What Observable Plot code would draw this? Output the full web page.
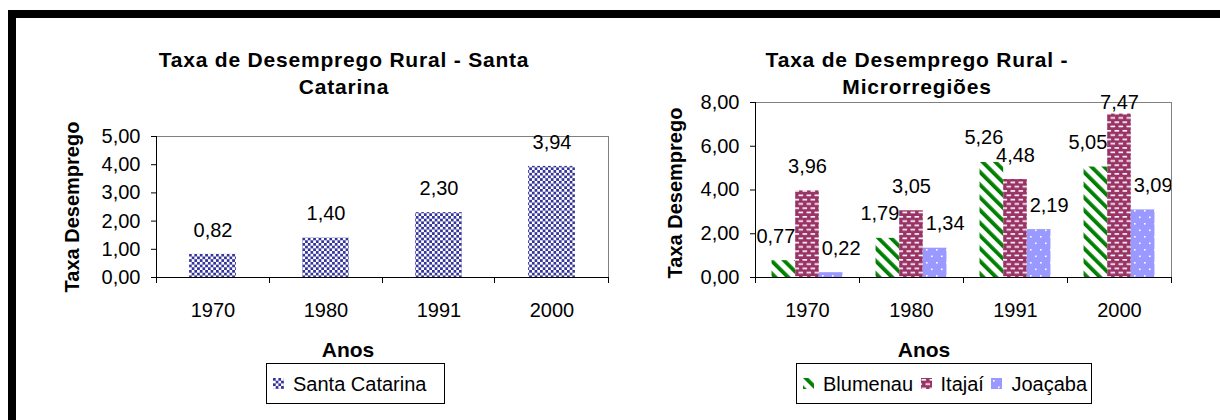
<!DOCTYPE html>
<html><head><meta charset="utf-8">
<script src="https://cdn.jsdelivr.net/npm/d3@7"></script>
<script src="https://cdn.jsdelivr.net/npm/@observablehq/plot@0.6"></script>
<style>
html,body{margin:0;padding:0;background:#fff;}
#root{position:relative;width:1220px;height:420px;overflow:hidden;font-family:'Liberation Sans',Arial,sans-serif;color:#000;background:#fff;}
.bigframe{position:absolute;left:8px;top:10px;width:1300px;height:500px;border-left:8px solid #000;border-top:8px solid #000;}
.title{position:absolute;transform:translateX(-50%);text-align:center;font-weight:bold;font-size:21px;letter-spacing:0.8px;line-height:27px;white-space:nowrap;}
.xtitle{position:absolute;transform:translateX(-50%);font-weight:bold;font-size:21px;line-height:21px;white-space:nowrap;}
.ytitle{position:absolute;transform:translate(-50%,-50%) rotate(-90deg);font-weight:bold;font-size:20px;line-height:20px;white-space:nowrap;}
.legend{position:absolute;top:363px;height:41px;border:1px solid #000;box-sizing:border-box;display:flex;align-items:center;font-size:20px;line-height:20px;padding-left:6px;white-space:nowrap;}
.legend .item{display:flex;align-items:center;margin-right:7.5px;}
.legend svg{width:11px;height:11px;margin-right:9px;flex:none;}
</style></head>
<body>
<div id="root">
<svg width="0" height="0" style="position:absolute">
<defs>
<pattern id="pChk" patternUnits="userSpaceOnUse" width="5.4" height="5.4">
<rect width="5.4" height="5.4" fill="#ffffff"/>
<rect width="2.7" height="2.7" fill="#333399"/>
<rect x="2.7" y="2.7" width="2.7" height="2.7" fill="#333399"/>
</pattern>
<pattern id="pBlu" patternUnits="userSpaceOnUse" width="9" height="9" patternTransform="rotate(-45)">
<rect width="9" height="9" fill="#ffffff"/>
<rect width="3.8" height="9" fill="#008000"/>
</pattern>
<pattern id="pIta" patternUnits="userSpaceOnUse" width="8" height="8.6">
<rect width="8" height="8.6" fill="#993366"/>
<rect x="0.5" y="1" width="4.6" height="1.6" fill="#ffffff"/>
<rect x="4.5" y="5.3" width="3.5" height="1.6" fill="#ffffff"/>
<rect x="0" y="5.3" width="1.1" height="1.6" fill="#ffffff"/>
</pattern>
<pattern id="pJoa" patternUnits="userSpaceOnUse" width="10" height="13">
<rect width="10" height="13" fill="#9999ff"/>
<rect x="2" y="2" width="1.6" height="1.6" fill="#ffffff"/>
<rect x="7" y="8.5" width="1.6" height="1.6" fill="#ffffff"/>
</pattern>
</defs>
</svg>
<div class="bigframe"></div>
</div>
<script>
// ---- data ----
const years = ["1970", "1980", "1991", "2000"];
const santaCatarina = [0.82, 1.40, 2.30, 3.94];
const series = ["Blumenau", "Itajaí", "Joaçaba"];
const blumenau = [0.77, 1.79, 5.26, 5.05];
const itajai = [3.96, 3.05, 4.48, 7.47];
const joacaba = [0.22, 1.34, 2.19, 3.09];
const yTicksLeft = [0, 1, 2, 3, 4, 5];
const yTicksRight = [0, 2, 4, 6, 8];
const titleLeft = ["Taxa de Desemprego Rural - Santa", "Catarina"];
const titleRight = ["Taxa de Desemprego Rural -", "Microrregiões"];
const xTitle = "Anos";
const yTitle = "Taxa Desemprego";

const seriesValues = [blumenau, itajai, joacaba];
const patterns = {"Santa Catarina": "pChk", "Blumenau": "pBlu", "Itajaí": "pIta", "Joaçaba": "pJoa"};
const fmt = v => v.toFixed(2).replace(".", ",");
const font = "'Liberation Sans', Arial, sans-serif";
const root = document.getElementById("root");

const leftData = years.map((y, i) => ({year: y, value: santaCatarina[i]}));
const rightData = years.flatMap((y, i) => series.map((s, k) => ({year: y, series: s, value: seriesValues[k][i]})));

function baseStyle(left) {
  return {position: "absolute", left: left + "px", top: "0px", fontFamily: font, fontSize: "20px",
          color: "#000", background: "transparent", overflow: "visible"};
}

// ---- left chart ----
const left = Plot.plot({
  width: 610, height: 420,
  marginLeft: 156, marginRight: 2, marginTop: 136, marginBottom: 143,
  style: baseStyle(0),
  x: {type: "band", domain: years, paddingInner: 0.586, paddingOuter: 0.293, round: false},
  y: {domain: [0, 5]},
  marks: [
    Plot.barY(leftData, {x: "year", y: "value", fill: "url(#pChk)"}),
    Plot.ruleY([5], {stroke: "#808080"}),
    Plot.ruleY([0], {stroke: "#000"}),
    Plot.axisY({ticks: yTicksLeft, tickFormat: fmt, tickSize: 5, tickPadding: 11, label: null}),
    Plot.axisX({tickSize: 0, tickPadding: 25, label: null}),
    Plot.text(leftData, {x: "year", y: "value", text: d => fmt(d.value), dy: -24})
  ]
});
root.appendChild(left);

// ---- right chart ----
const yMaxRight = 8;
const labelDx = {"Blumenau": -8, "Itajaí": 0, "Joaçaba": 10};
const right = Plot.plot({
  width: 610, height: 420,
  marginLeft: 145, marginRight: 49, marginTop: 102, marginBottom: 143,
  style: baseStyle(610),
  fx: {domain: years, padding: 0, round: false},
  x: {domain: series, paddingInner: 0, paddingOuter: 0.7, round: false, axis: null},
  y: {domain: [0, yMaxRight]},
  marks: [
    ...series.map(s => Plot.barY(rightData.filter(d => d.series === s),
      {fx: "year", x: "series", y: "value", fill: `url(#${patterns[s]})`})),
    Plot.ruleY([yMaxRight], {stroke: "#808080"}),
    Plot.ruleY([0], {stroke: "#000"}),
    Plot.axisY({ticks: yTicksRight, tickFormat: fmt, tickSize: 5, tickPadding: 11, label: null}),
    Plot.axisFx({anchor: "bottom", tickSize: 0, tickPadding: 25, label: null}),
    ...series.map(s => Plot.text(rightData.filter(d => d.series === s && d.value <= yMaxRight - 1),
      {fx: "year", x: "series", y: "value", text: d => fmt(d.value), dx: labelDx[s], dy: -24.4})),
    Plot.text(rightData.filter(d => d.value > yMaxRight - 1),
      {fx: "year", x: "series", y: "value", text: d => fmt(d.value), dy: -12})
  ]
});
root.appendChild(right);

// ---- frame verticals and category boundary ticks (from the plots' scales) ----
function decorate(svg, band) {
  const Y = svg.scale("y");
  const y0 = Y.range[0], y1 = Y.range[1];
  const gap = (band.step - band.bandwidth) / 2;
  const bounds = years.map(y => band.apply(y) - gap);
  bounds.push(band.apply(years[years.length - 1]) + band.bandwidth + gap);
  const g = d3.select(svg).append("g");
  bounds.forEach((x, i) => {
    const px = Math.floor(x) + 0.5;
    g.append("line").attr("x1", px).attr("x2", px).attr("y1", y0).attr("y2", y0 + 6).attr("stroke", "#000");
    if (i === bounds.length - 1)
      g.append("line").attr("x1", px).attr("x2", px).attr("y1", y1).attr("y2", y0).attr("stroke", "#808080");
  });
  const lx = Math.floor(bounds[0]) + 0.5;
  g.append("line").attr("x1", lx).attr("x2", lx).attr("y1", y1).attr("y2", y0 + 6).attr("stroke", "#000");
}
decorate(left, left.scale("x"));
decorate(right, right.scale("fx"));

// ---- titles, axis titles, legends ----
function div(cls, text, css) {
  const d = document.createElement("div");
  d.className = cls;
  d.innerHTML = text;
  Object.assign(d.style, css);
  root.appendChild(d);
  return d;
}
div("title", titleLeft.join("<br>"), {left: "344px", top: "46px"});
div("title", titleRight.join("<br>"), {left: "917px", top: "46px"});
div("xtitle", xTitle, {left: "348px", top: "339px"});
div("xtitle", xTitle, {left: "924px", top: "339px"});
div("ytitle", yTitle, {left: "72px", top: "207px"});
div("ytitle", yTitle, {left: "675px", top: "193px"});

function legend(names, css) {
  const box = document.createElement("div");
  box.className = "legend";
  Object.assign(box.style, css);
  names.forEach(n => {
    const it = document.createElement("div");
    it.className = "item";
    it.innerHTML = `<svg viewBox="0 0 11 11"><rect width="11" height="11" fill="url(#${patterns[n]})"/></svg><span>${n}</span>`;
    box.appendChild(it);
  });
  root.appendChild(box);
}
legend(["Santa Catarina"], {left: "266px", width: "179px"});
legend(series, {left: "796px", width: "296px"});
</script>
</body></html>
